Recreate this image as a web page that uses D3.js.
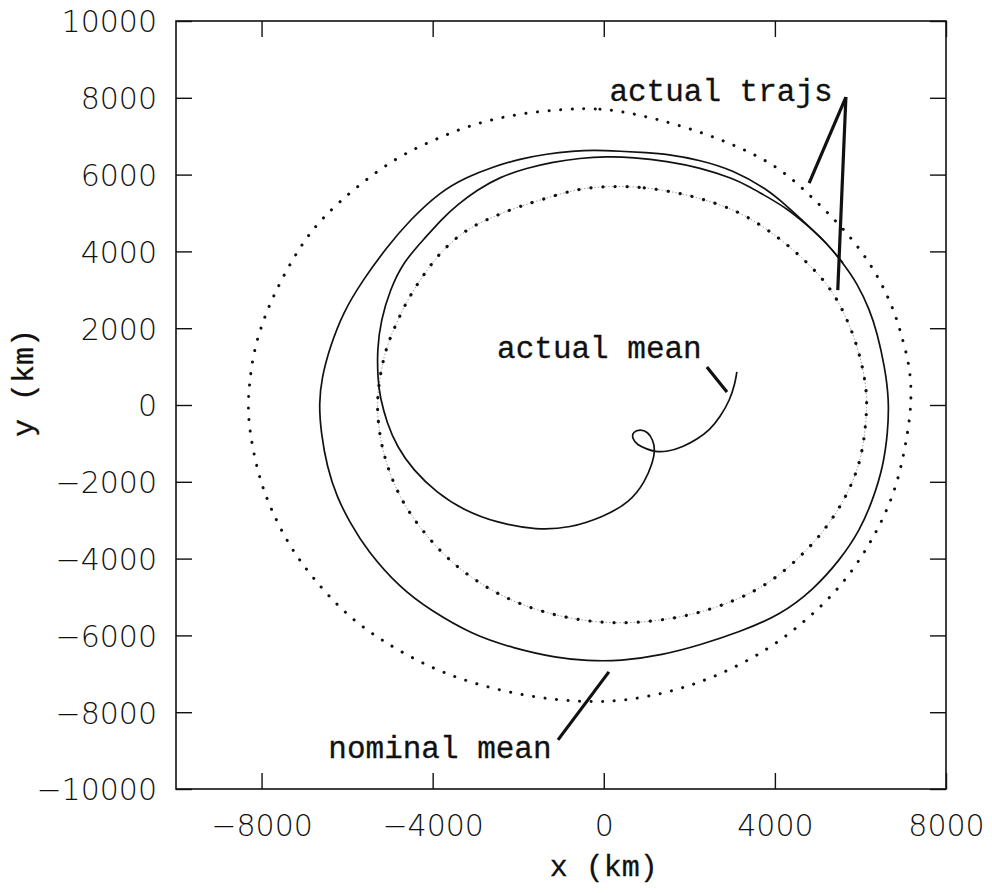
<!DOCTYPE html>
<html>
<head>
<meta charset="utf-8">
<script src="https://cdn.jsdelivr.net/npm/d3@7/dist/d3.min.js"></script>
<style>
 body { margin: 0; background: #fff; }
 svg { display: block; }
 .tick text { font-family: "DejaVu Sans", sans-serif; font-weight: 200; font-size: 30px; fill: #111; }
 .mono { font-family: "Liberation Mono", "Courier New", monospace; fill: #111; stroke: #111; stroke-width: 0.3px; }
</style>
</head>
<body>
<svg id="chart" width="992" height="893"></svg>
<script>
// values, in km
var xTicks = [-8000, -4000, 0, 4000, 8000];
var yTicks = [-10000, -8000, -6000, -4000, -2000, 0, 2000, 4000, 6000, 8000, 10000];

// outer dotted trajectory (closed)
var trajOuter = [
 [-860,7710],[-90,7730],[680,7600],[1850,7270],[3020,6800],[4120,6200],[4980,5290],[5710,4480],
 [6390,3440],[6810,2400],[6970,1770],[7160,990],[7200,130],[7110,-730],[6850,-2210],[6290,-3520],
 [5590,-4690],[4750,-5600],[3840,-6380],[2720,-7030],[1620,-7470],[380,-7730],[-630,-7730],
 [-1730,-7600],[-2960,-7290],[-4060,-6850],[-5230,-6120],[-6070,-5420],[-6800,-4510],[-7340,-3700],
 [-7800,-2680],[-8080,-1820],[-8270,-760],[-8320,-100],[-8290,520],[-8180,1460],[-7900,2400],
 [-7570,3200],[-7080,4170],[-6590,4870],[-5820,5650],[-4880,6430],[-3990,6900],[-3060,7320],[-1960,7600]
];

// inner dotted trajectory (closed)
var trajInner = [
 [215,5700],[920,5680],[1780,5520],[2480,5310],[3250,5000],[4070,4380],[4630,3850],[5220,3180],
 [5640,2400],[5990,1350],[6150,390],[6150,-210],[6040,-1430],[5640,-2470],[5120,-3330],[4590,-3960],
 [3890,-4640],[3020,-5130],[1940,-5520],[680,-5700],[-390,-5650],[-1490,-5390],[-2470,-4950],
 [-3290,-4350],[-3810,-3830],[-4370,-3100],[-4760,-2420],[-5040,-1690],[-5230,-910],[-5300,-130],
 [-5280,390],[-5140,1350],[-4860,2110],[-4580,2760],[-4250,3330],[-3830,3980],[-3240,4560],
 [-2660,4870],[-2010,5160],[-1330,5390],[-560,5650]
];

// nominal mean (closed)
var nominalMean = [
 [-250,6640],[380,6610],[1010,6570],[1480,6530],[2250,6380],[3020,6120],[3820,5620],[4280,5180],
 [4750,4700],[5210,4220],[5590,3700],[5920,3180],[6220,2470],[6390,1880],[6570,990],[6670,130],
 [6640,-730],[6530,-1610],[6290,-2470],[5990,-3260],[5520,-4040],[4890,-4820],[4120,-5470],
 [3180,-5910],[2250,-6250],[1380,-6510],[380,-6670],[-390,-6660],[-1090,-6590],[-2120,-6330],
 [-3060,-5990],[-4060,-5340],[-4760,-4770],[-5540,-3780],[-5930,-3070],[-6240,-2400],[-6470,-1610],
 [-6610,-730],[-6660,50],[-6590,730],[-6400,1510],[-6100,2400],[-5630,3260],[-5070,4110],
 [-4530,4820],[-3830,5550],[-3200,5940],[-2590,6200],[-1960,6410],[-1330,6540],[-720,6610]
];

// actual mean (open spiral, from the nominal orbit inward)
var actualMean = [
 [5590,3700],[5210,4220],[4750,4690],[4280,5120],[3820,5420],[3420,5680],[3020,5900],[2250,6180],
 [1480,6350],[680,6450],[80,6470],[-560,6430],[-1190,6330],[-1800,6170],[-2430,5940],[-2960,5600],
 [-3430,5210],[-3760,4870],[-4180,4350],[-4690,3720],[-5000,2990],[-5210,2210],[-5300,1430],
 [-5280,650],[-5230,210],[-5070,-470],[-4830,-1090],[-4460,-1690],[-3900,-2290],[-3290,-2730],
 [-2500,-3070],[-1560,-3260],[-790,-3200],[-20,-2920],[610,-2530],[960,-2010],[1150,-1480],
 [1200,-1170],[1150,-910],[1030,-700],[850,-630],[680,-700],[660,-860],[780,-1040],[1010,-1150],
 [1200,-1220],[1480,-1220],[1850,-1090],[2180,-890],[2480,-650],[2720,-310],[2950,130],[3070,570],[3110,860]
];

// annotations: text, text end point, leader lines
var annText = ["actual trajs", "actual mean", "nominal mean"];
var annTextAt = [[5350,7920],[2290,1220],[-1220,-9180]];
var annLeaders = [
 [[5660,8020],[4800,5780]],
 [[5660,8020],[5470,2990]],
 [[2410,990],[2880,340]],
 [[-1070,-8720],[120,-6950]]
];

var svg = d3.select("#chart");
var margin = {left: 176, right: 46, top: 21, bottom: 104};
var W = 992, H = 893;

var x = d3.scaleLinear().domain([-10000, 8000]).range([margin.left, W - margin.right]);
var y = d3.scaleLinear().domain([-10000, 10000]).range([H - margin.bottom, margin.top]);

var fmt = function(d){ return d < 0 ? "\u2212" + Math.abs(d) : "" + d; };

var line = d3.line().x(function(d){ return x(d[0]); }).y(function(d){ return y(d[1]); });

// frame
svg.append("rect")
   .attr("x", x.range()[0]).attr("y", y.range()[1])
   .attr("width", x.range()[1] - x.range()[0])
   .attr("height", y.range()[0] - y.range()[1])
   .attr("fill", "none").attr("stroke", "#111").attr("stroke-width", 1.6);

// axes, ticks pointing inward
var gx = svg.append("g").attr("transform", "translate(0," + y.range()[0] + ")")
   .call(d3.axisBottom(x).tickValues(xTicks).tickFormat(fmt).tickSizeInner(-16).tickSizeOuter(0).tickPadding(26));
var gxt = svg.append("g").attr("transform", "translate(0," + y.range()[1] + ")")
   .call(d3.axisTop(x).tickValues(xTicks).tickFormat("").tickSizeInner(-16).tickSizeOuter(0));
var gy = svg.append("g").attr("transform", "translate(" + x.range()[0] + ",0)")
   .call(d3.axisLeft(y).tickValues(yTicks).tickFormat(fmt).tickSizeInner(-16).tickSizeOuter(0).tickPadding(19));
var gyr = svg.append("g").attr("transform", "translate(" + x.range()[1] + ",0)")
   .call(d3.axisRight(y).tickValues(yTicks).tickFormat("").tickSizeInner(-16).tickSizeOuter(0));

[gx, gxt, gy, gyr].forEach(function(g){
  g.select(".domain").remove();
  g.selectAll(".tick line").attr("stroke", "#111").attr("stroke-width", 1.4);
});
gy.selectAll(".tick text").attr("dy", "0.36em");

// outer dotted
svg.append("path").datum(trajOuter)
   .attr("d", line.curve(d3.curveBasisClosed))
   .attr("fill", "none").attr("stroke", "#111")
   .attr("stroke-width", 3).attr("stroke-linecap", "round")
   .attr("stroke-dasharray", "0.1 11.5");

// inner dotted: faint line with dots
svg.append("path").datum(trajInner)
   .attr("d", line.curve(d3.curveBasisClosed))
   .attr("fill", "none").attr("stroke", "#777").attr("stroke-width", 0.7)
   .attr("stroke-dasharray", "1.5 2");
svg.append("path").datum(trajInner)
   .attr("d", line.curve(d3.curveBasisClosed))
   .attr("fill", "none").attr("stroke", "#111")
   .attr("stroke-width", 3.2).attr("stroke-linecap", "round")
   .attr("stroke-dasharray", "0.1 12");

// nominal mean
svg.append("path").datum(nominalMean)
   .attr("d", line.curve(d3.curveBasisClosed))
   .attr("fill", "none").attr("stroke", "#111").attr("stroke-width", 1.7);

// actual mean spiral
svg.append("path").datum(actualMean)
   .attr("d", line.curve(d3.curveBasis))
   .attr("fill", "none").attr("stroke", "#111").attr("stroke-width", 1.7);

// leaders
svg.selectAll("line.leader").data(annLeaders).enter().append("line")
   .attr("class", "leader")
   .attr("x1", function(d){ return x(d[0][0]); }).attr("y1", function(d){ return y(d[0][1]); })
   .attr("x2", function(d){ return x(d[1][0]); }).attr("y2", function(d){ return y(d[1][1]); })
   .attr("stroke", "#111").attr("stroke-width", 3.2);

// annotation text
svg.selectAll("text.ann").data(annText).enter().append("text")
   .attr("class", "ann mono")
   .attr("x", function(d, i){ return x(annTextAt[i][0]); })
   .attr("y", function(d, i){ return y(annTextAt[i][1]); })
   .attr("text-anchor", "end")
   .style("font-size", "31px")
   .text(function(d){ return d; });

// axis titles
svg.append("text").attr("class", "mono")
   .attr("x", x(0)).attr("y", 876)
   .attr("text-anchor", "middle").style("font-size", "30px")
   .text("x (km)");
svg.append("text").attr("class", "mono")
   .attr("transform", "translate(33," + 383 + ") rotate(-90)")
   .attr("text-anchor", "middle").style("font-size", "30px")
   .text("y (km)");
</script>
</body>
</html>
